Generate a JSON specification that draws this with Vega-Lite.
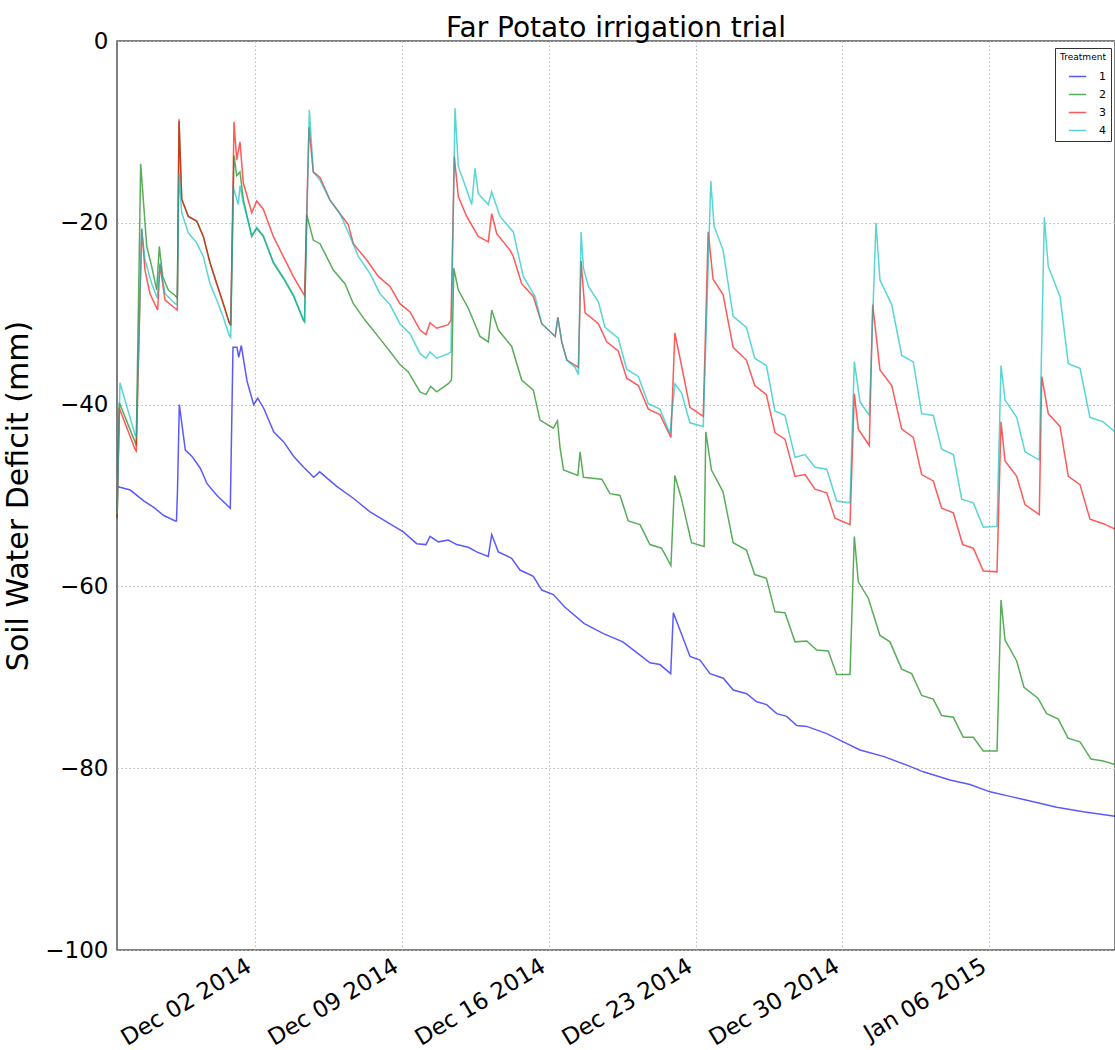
{
  "$schema": "https://vega.github.io/schema/vega-lite/v6.json",
  "width": 998,
  "height": 909,
  "autosize": {"type": "none"},
  "padding": {"left": 117, "top": 41, "right": 0, "bottom": 100},
  "background": "white",
  "title": {"text": "Far Potato irrigation trial", "fontSize": 28, "font": "DejaVu Sans", "fontWeight": "normal", "color": "black", "anchor": "middle", "offset": -13},
  "data": {"values": [
{"date":"2014-11-25T11:00","deficit":-49.0,"treatment":"1"},{"date":"2014-11-26T02:00","deficit":-49.4,"treatment":"1"},{"date":"2014-11-26T17:20","deficit":-50.6,"treatment":"1"},{"date":"2014-11-27T04:50","deficit":-51.3,"treatment":"1"},{"date":"2014-11-27T16:15","deficit":-52.2,"treatment":"1"},{"date":"2014-11-28T05:30","deficit":-52.8,"treatment":"1"},{"date":"2014-11-28T06:50","deficit":-52.8,"treatment":"1"},{"date":"2014-11-28T08:00","deficit":-49.4,"treatment":"1"},{"date":"2014-11-28T10:05","deficit":-40.0,"treatment":"1"},{"date":"2014-11-28T16:55","deficit":-45.0,"treatment":"1"},{"date":"2014-11-29T00:35","deficit":-45.7,"treatment":"1"},{"date":"2014-11-29T10:05","deficit":-47.0,"treatment":"1"},{"date":"2014-11-29T17:45","deficit":-48.7,"treatment":"1"},{"date":"2014-11-30T05:10","deficit":-50.0,"treatment":"1"},{"date":"2014-11-30T20:20","deficit":-51.4,"treatment":"1"},{"date":"2014-11-30T23:25","deficit":-33.7,"treatment":"1"},{"date":"2014-12-01T04:00","deficit":-33.7,"treatment":"1"},{"date":"2014-12-01T05:55","deficit":-34.8,"treatment":"1"},{"date":"2014-12-01T08:55","deficit":-33.5,"treatment":"1"},{"date":"2014-12-01T15:25","deficit":-37.4,"treatment":"1"},{"date":"2014-12-01T23:05","deficit":-40.0,"treatment":"1"},{"date":"2014-12-02T03:40","deficit":-39.3,"treatment":"1"},{"date":"2014-12-02T10:30","deficit":-40.4,"treatment":"1"},{"date":"2014-12-02T21:55","deficit":-43.0,"treatment":"1"},{"date":"2014-12-03T09:20","deficit":-44.1,"treatment":"1"},{"date":"2014-12-03T20:50","deficit":-45.7,"treatment":"1"},{"date":"2014-12-04T08:15","deficit":-46.9,"treatment":"1"},{"date":"2014-12-04T19:40","deficit":-48.0,"treatment":"1"},{"date":"2014-12-05T02:30","deficit":-47.4,"treatment":"1"},{"date":"2014-12-05T21:55","deficit":-49.0,"treatment":"1"},{"date":"2014-12-06T16:55","deficit":-50.3,"treatment":"1"},{"date":"2014-12-07T12:00","deficit":-51.8,"treatment":"1"},{"date":"2014-12-08T07:05","deficit":-52.9,"treatment":"1"},{"date":"2014-12-09T02:05","deficit":-54.0,"treatment":"1"},{"date":"2014-12-09T17:20","deficit":-55.3,"treatment":"1"},{"date":"2014-12-10T04:00","deficit":-55.4,"treatment":"1"},{"date":"2014-12-10T08:35","deficit":-54.5,"treatment":"1"},{"date":"2014-12-10T18:05","deficit":-55.1,"treatment":"1"},{"date":"2014-12-11T05:30","deficit":-54.9,"treatment":"1"},{"date":"2014-12-11T15:05","deficit":-55.4,"treatment":"1"},{"date":"2014-12-12T04:20","deficit":-55.7,"treatment":"1"},{"date":"2014-12-12T13:55","deficit":-56.2,"treatment":"1"},{"date":"2014-12-13T03:10","deficit":-56.7,"treatment":"1"},{"date":"2014-12-13T07:05","deficit":-54.3,"treatment":"1"},{"date":"2014-12-13T14:40","deficit":-56.2,"treatment":"1"},{"date":"2014-12-14T05:55","deficit":-56.9,"treatment":"1"},{"date":"2014-12-14T15:25","deficit":-58.2,"treatment":"1"},{"date":"2014-12-15T06:40","deficit":-58.9,"treatment":"1"},{"date":"2014-12-15T16:15","deficit":-60.4,"treatment":"1"},{"date":"2014-12-16T05:30","deficit":-60.9,"treatment":"1"},{"date":"2014-12-16T18:50","deficit":-62.3,"treatment":"1"},{"date":"2014-12-17T16:55","deficit":-64.1,"treatment":"1"},{"date":"2014-12-18T14:50","deficit":-65.2,"treatment":"1"},{"date":"2014-12-19T12:55","deficit":-66.1,"treatment":"1"},{"date":"2014-12-20T06:25","deficit":-67.4,"treatment":"1"},{"date":"2014-12-20T20:00","deficit":-68.4,"treatment":"1"},{"date":"2014-12-21T07:25","deficit":-68.6,"treatment":"1"},{"date":"2014-12-21T19:40","deficit":-69.6,"treatment":"1"},{"date":"2014-12-21T22:40","deficit":-62.9,"treatment":"1"},{"date":"2014-12-22T06:15","deficit":-64.8,"treatment":"1"},{"date":"2014-12-22T17:45","deficit":-67.7,"treatment":"1"},{"date":"2014-12-23T05:10","deficit":-68.1,"treatment":"1"},{"date":"2014-12-23T16:35","deficit":-69.6,"treatment":"1"},{"date":"2014-12-24T07:45","deficit":-70.1,"treatment":"1"},{"date":"2014-12-24T19:10","deficit":-71.4,"treatment":"1"},{"date":"2014-12-25T10:30","deficit":-71.8,"treatment":"1"},{"date":"2014-12-25T21:55","deficit":-72.7,"treatment":"1"},{"date":"2014-12-26T09:20","deficit":-73.0,"treatment":"1"},{"date":"2014-12-26T20:50","deficit":-74.0,"treatment":"1"},{"date":"2014-12-27T08:15","deficit":-74.3,"treatment":"1"},{"date":"2014-12-27T19:40","deficit":-75.3,"treatment":"1"},{"date":"2014-12-28T07:05","deficit":-75.4,"treatment":"1"},{"date":"2014-12-29T05:55","deficit":-76.2,"treatment":"1"},{"date":"2014-12-30T00:55","deficit":-77.1,"treatment":"1"},{"date":"2014-12-30T20:00","deficit":-78.0,"treatment":"1"},{"date":"2014-12-31T22:40","deficit":-78.7,"treatment":"1"},{"date":"2015-01-02T05:10","deficit":-79.8,"treatment":"1"},{"date":"2015-01-02T20:20","deficit":-80.4,"treatment":"1"},{"date":"2015-01-04T02:50","deficit":-81.3,"treatment":"1"},{"date":"2015-01-05T01:45","deficit":-81.8,"treatment":"1"},{"date":"2015-01-06T00:35","deficit":-82.6,"treatment":"1"},{"date":"2015-01-06T23:25","deficit":-83.1,"treatment":"1"},{"date":"2015-01-08T02:05","deficit":-83.7,"treatment":"1"},{"date":"2015-01-09T04:50","deficit":-84.3,"treatment":"1"},{"date":"2015-01-10T11:10","deficit":-84.8,"treatment":"1"},{"date":"2015-01-11T23:25","deficit":-85.3,"treatment":"1"},
{"date":"2014-11-25T11:00","deficit":-52.5,"treatment":"2"},{"date":"2014-11-25T13:30","deficit":-39.8,"treatment":"2"},{"date":"2014-11-26T07:25","deficit":-44.1,"treatment":"2"},{"date":"2014-11-26T08:50","deficit":-44.5,"treatment":"2"},{"date":"2014-11-26T13:55","deficit":-13.5,"treatment":"2"},{"date":"2014-11-26T20:50","deficit":-22.6,"treatment":"2"},{"date":"2014-11-27T02:30","deficit":-24.8,"treatment":"2"},{"date":"2014-11-27T08:15","deficit":-27.4,"treatment":"2"},{"date":"2014-11-27T11:10","deficit":-22.6,"treatment":"2"},{"date":"2014-11-27T15:05","deficit":-25.9,"treatment":"2"},{"date":"2014-11-27T21:30","deficit":-27.4,"treatment":"2"},{"date":"2014-11-28T05:10","deficit":-28.0,"treatment":"2"},{"date":"2014-11-28T07:45","deficit":-28.3,"treatment":"2"},{"date":"2014-11-28T09:45","deficit":-8.8,"treatment":"2"},{"date":"2014-11-28T12:50","deficit":-17.4,"treatment":"2"},{"date":"2014-11-28T20:20","deficit":-19.3,"treatment":"2"},{"date":"2014-11-29T05:55","deficit":-19.8,"treatment":"2"},{"date":"2014-11-29T13:30","deficit":-21.5,"treatment":"2"},{"date":"2014-11-29T21:10","deficit":-24.4,"treatment":"2"},{"date":"2014-11-30T04:50","deficit":-26.7,"treatment":"2"},{"date":"2014-11-30T12:20","deficit":-28.9,"treatment":"2"},{"date":"2014-11-30T18:50","deficit":-30.9,"treatment":"2"},{"date":"2014-11-30T20:50","deficit":-31.3,"treatment":"2"},{"date":"2014-12-01T00:35","deficit":-12.6,"treatment":"2"},{"date":"2014-12-01T03:40","deficit":-14.8,"treatment":"2"},{"date":"2014-12-01T07:25","deficit":-14.4,"treatment":"2"},{"date":"2014-12-01T11:10","deficit":-17.4,"treatment":"2"},{"date":"2014-12-01T20:50","deficit":-21.5,"treatment":"2"},{"date":"2014-12-02T02:30","deficit":-20.6,"treatment":"2"},{"date":"2014-12-02T10:05","deficit":-21.5,"treatment":"2"},{"date":"2014-12-02T21:30","deficit":-24.4,"treatment":"2"},{"date":"2014-12-03T08:55","deficit":-26.1,"treatment":"2"},{"date":"2014-12-03T20:20","deficit":-28.0,"treatment":"2"},{"date":"2014-12-04T07:45","deficit":-30.7,"treatment":"2"},{"date":"2014-12-04T09:10","deficit":-30.9,"treatment":"2"},{"date":"2014-12-04T11:40","deficit":-19.1,"treatment":"2"},{"date":"2014-12-04T19:10","deficit":-21.9,"treatment":"2"},{"date":"2014-12-05T02:50","deficit":-22.3,"treatment":"2"},{"date":"2014-12-05T18:05","deficit":-25.2,"treatment":"2"},{"date":"2014-12-06T07:25","deficit":-26.7,"treatment":"2"},{"date":"2014-12-06T16:55","deficit":-28.9,"treatment":"2"},{"date":"2014-12-07T06:15","deficit":-30.7,"treatment":"2"},{"date":"2014-12-07T19:40","deficit":-32.3,"treatment":"2"},{"date":"2014-12-08T12:50","deficit":-34.4,"treatment":"2"},{"date":"2014-12-08T22:15","deficit":-35.6,"treatment":"2"},{"date":"2014-12-09T07:45","deficit":-36.4,"treatment":"2"},{"date":"2014-12-09T21:10","deficit":-38.6,"treatment":"2"},{"date":"2014-12-10T04:00","deficit":-38.9,"treatment":"2"},{"date":"2014-12-10T09:20","deficit":-38.0,"treatment":"2"},{"date":"2014-12-10T16:15","deficit":-38.6,"treatment":"2"},{"date":"2014-12-11T05:30","deficit":-37.7,"treatment":"2"},{"date":"2014-12-11T09:10","deficit":-37.3,"treatment":"2"},{"date":"2014-12-11T11:45","deficit":-25.0,"treatment":"2"},{"date":"2014-12-11T16:55","deficit":-27.4,"treatment":"2"},{"date":"2014-12-12T04:20","deficit":-29.4,"treatment":"2"},{"date":"2014-12-12T17:45","deficit":-32.5,"treatment":"2"},{"date":"2014-12-13T03:10","deficit":-33.1,"treatment":"2"},{"date":"2014-12-13T07:05","deficit":-29.6,"treatment":"2"},{"date":"2014-12-13T14:40","deficit":-31.8,"treatment":"2"},{"date":"2014-12-14T05:55","deficit":-33.6,"treatment":"2"},{"date":"2014-12-14T17:20","deficit":-37.3,"treatment":"2"},{"date":"2014-12-15T06:40","deficit":-38.4,"treatment":"2"},{"date":"2014-12-15T14:15","deficit":-41.7,"treatment":"2"},{"date":"2014-12-16T05:30","deficit":-42.6,"treatment":"2"},{"date":"2014-12-16T10:15","deficit":-41.8,"treatment":"2"},{"date":"2014-12-16T13:15","deficit":-44.8,"treatment":"2"},{"date":"2014-12-16T17:10","deficit":-47.2,"treatment":"2"},{"date":"2014-12-17T09:30","deficit":-47.8,"treatment":"2"},{"date":"2014-12-17T12:05","deficit":-45.2,"treatment":"2"},{"date":"2014-12-17T15:55","deficit":-48.0,"treatment":"2"},{"date":"2014-12-18T12:50","deficit":-48.2,"treatment":"2"},{"date":"2014-12-18T22:15","deficit":-49.8,"treatment":"2"},{"date":"2014-12-19T09:45","deficit":-50.0,"treatment":"2"},{"date":"2014-12-19T19:10","deficit":-52.8,"treatment":"2"},{"date":"2014-12-20T08:35","deficit":-53.2,"treatment":"2"},{"date":"2014-12-20T19:55","deficit":-55.4,"treatment":"2"},{"date":"2014-12-21T09:15","deficit":-55.8,"treatment":"2"},{"date":"2014-12-21T19:55","deficit":-57.7,"treatment":"2"},{"date":"2014-12-22T00:25","deficit":-47.8,"treatment":"2"},{"date":"2014-12-22T08:00","deficit":-50.4,"treatment":"2"},{"date":"2014-12-22T19:25","deficit":-55.2,"treatment":"2"},{"date":"2014-12-23T09:55","deficit":-55.6,"treatment":"2"},{"date":"2014-12-23T11:45","deficit":-43.0,"treatment":"2"},{"date":"2014-12-23T18:15","deficit":-47.2,"treatment":"2"},{"date":"2014-12-24T07:30","deficit":-49.6,"treatment":"2"},{"date":"2014-12-24T19:00","deficit":-55.2,"treatment":"2"},{"date":"2014-12-25T10:10","deficit":-56.0,"treatment":"2"},{"date":"2014-12-25T19:40","deficit":-58.7,"treatment":"2"},{"date":"2014-12-26T09:00","deficit":-59.1,"treatment":"2"},{"date":"2014-12-26T18:50","deficit":-62.8,"treatment":"2"},{"date":"2014-12-27T06:15","deficit":-62.9,"treatment":"2"},{"date":"2014-12-27T17:45","deficit":-66.1,"treatment":"2"},{"date":"2014-12-28T07:05","deficit":-66.0,"treatment":"2"},{"date":"2014-12-28T18:30","deficit":-67.0,"treatment":"2"},{"date":"2014-12-29T07:45","deficit":-67.1,"treatment":"2"},{"date":"2014-12-29T17:20","deficit":-69.7,"treatment":"2"},{"date":"2014-12-30T08:35","deficit":-69.7,"treatment":"2"},{"date":"2014-12-30T13:30","deficit":-54.5,"treatment":"2"},{"date":"2014-12-30T18:05","deficit":-59.5,"treatment":"2"},{"date":"2014-12-31T05:30","deficit":-61.3,"treatment":"2"},{"date":"2014-12-31T18:50","deficit":-65.4,"treatment":"2"},{"date":"2015-01-01T06:15","deficit":-66.1,"treatment":"2"},{"date":"2015-01-01T19:40","deficit":-69.1,"treatment":"2"},{"date":"2015-01-02T07:05","deficit":-69.6,"treatment":"2"},{"date":"2015-01-02T18:30","deficit":-72.0,"treatment":"2"},{"date":"2015-01-03T07:45","deficit":-72.4,"treatment":"2"},{"date":"2015-01-03T17:20","deficit":-74.2,"treatment":"2"},{"date":"2015-01-04T06:40","deficit":-74.4,"treatment":"2"},{"date":"2015-01-04T18:05","deficit":-76.6,"treatment":"2"},{"date":"2015-01-05T05:30","deficit":-76.6,"treatment":"2"},{"date":"2015-01-05T16:55","deficit":-78.1,"treatment":"2"},{"date":"2015-01-06T08:35","deficit":-78.1,"treatment":"2"},{"date":"2015-01-06T13:10","deficit":-61.5,"treatment":"2"},{"date":"2015-01-06T17:45","deficit":-65.9,"treatment":"2"},{"date":"2015-01-07T07:05","deficit":-68.2,"treatment":"2"},{"date":"2015-01-07T15:25","deficit":-71.1,"treatment":"2"},{"date":"2015-01-08T07:25","deficit":-72.3,"treatment":"2"},{"date":"2015-01-08T17:20","deficit":-74.0,"treatment":"2"},{"date":"2015-01-09T06:40","deficit":-74.6,"treatment":"2"},{"date":"2015-01-09T17:45","deficit":-76.7,"treatment":"2"},{"date":"2015-01-10T07:25","deficit":-77.1,"treatment":"2"},{"date":"2015-01-10T20:00","deficit":-79.0,"treatment":"2"},{"date":"2015-01-11T10:05","deficit":-79.2,"treatment":"2"},{"date":"2015-01-11T23:25","deficit":-79.6,"treatment":"2"},
{"date":"2014-11-25T11:00","deficit":-52.5,"treatment":"3"},{"date":"2014-11-25T13:30","deficit":-40.4,"treatment":"3"},{"date":"2014-11-26T07:25","deficit":-44.9,"treatment":"3"},{"date":"2014-11-26T08:55","deficit":-45.1,"treatment":"3"},{"date":"2014-11-26T15:05","deficit":-20.7,"treatment":"3"},{"date":"2014-11-26T18:50","deficit":-25.2,"treatment":"3"},{"date":"2014-11-27T00:35","deficit":-27.8,"treatment":"3"},{"date":"2014-11-27T09:20","deficit":-29.6,"treatment":"3"},{"date":"2014-11-27T12:00","deficit":-24.6,"treatment":"3"},{"date":"2014-11-27T17:45","deficit":-28.5,"treatment":"3"},{"date":"2014-11-28T05:10","deficit":-29.4,"treatment":"3"},{"date":"2014-11-28T07:45","deficit":-29.6,"treatment":"3"},{"date":"2014-11-28T09:45","deficit":-8.6,"treatment":"3"},{"date":"2014-11-28T12:50","deficit":-17.4,"treatment":"3"},{"date":"2014-11-28T20:20","deficit":-19.3,"treatment":"3"},{"date":"2014-11-29T05:55","deficit":-19.8,"treatment":"3"},{"date":"2014-11-29T13:30","deficit":-21.5,"treatment":"3"},{"date":"2014-11-29T21:10","deficit":-24.4,"treatment":"3"},{"date":"2014-11-30T04:50","deficit":-26.7,"treatment":"3"},{"date":"2014-11-30T12:20","deficit":-28.9,"treatment":"3"},{"date":"2014-11-30T18:50","deficit":-30.9,"treatment":"3"},{"date":"2014-11-30T20:50","deficit":-31.3,"treatment":"3"},{"date":"2014-12-01T00:35","deficit":-8.9,"treatment":"3"},{"date":"2014-12-01T03:40","deficit":-13.1,"treatment":"3"},{"date":"2014-12-01T07:25","deficit":-11.1,"treatment":"3"},{"date":"2014-12-01T11:10","deficit":-15.6,"treatment":"3"},{"date":"2014-12-01T20:50","deficit":-18.9,"treatment":"3"},{"date":"2014-12-02T02:30","deficit":-17.6,"treatment":"3"},{"date":"2014-12-02T10:05","deficit":-18.5,"treatment":"3"},{"date":"2014-12-02T21:30","deficit":-21.5,"treatment":"3"},{"date":"2014-12-03T08:55","deficit":-23.7,"treatment":"3"},{"date":"2014-12-03T20:20","deficit":-25.9,"treatment":"3"},{"date":"2014-12-04T07:45","deficit":-27.8,"treatment":"3"},{"date":"2014-12-04T09:10","deficit":-28.0,"treatment":"3"},{"date":"2014-12-04T14:15","deficit":-9.5,"treatment":"3"},{"date":"2014-12-04T19:10","deficit":-14.4,"treatment":"3"},{"date":"2014-12-05T02:50","deficit":-15.0,"treatment":"3"},{"date":"2014-12-05T14:15","deficit":-17.5,"treatment":"3"},{"date":"2014-12-06T01:45","deficit":-19.0,"treatment":"3"},{"date":"2014-12-06T11:10","deficit":-20.2,"treatment":"3"},{"date":"2014-12-06T16:55","deficit":-22.3,"treatment":"3"},{"date":"2014-12-07T08:15","deficit":-24.1,"treatment":"3"},{"date":"2014-12-07T21:30","deficit":-25.9,"treatment":"3"},{"date":"2014-12-08T10:50","deficit":-27.0,"treatment":"3"},{"date":"2014-12-08T22:15","deficit":-28.9,"treatment":"3"},{"date":"2014-12-09T09:45","deficit":-29.8,"treatment":"3"},{"date":"2014-12-09T21:10","deficit":-31.8,"treatment":"3"},{"date":"2014-12-10T04:00","deficit":-32.3,"treatment":"3"},{"date":"2014-12-10T08:35","deficit":-31.0,"treatment":"3"},{"date":"2014-12-10T16:15","deficit":-31.6,"treatment":"3"},{"date":"2014-12-11T05:30","deficit":-31.2,"treatment":"3"},{"date":"2014-12-11T08:35","deficit":-30.7,"treatment":"3"},{"date":"2014-12-11T12:20","deficit":-12.7,"treatment":"3"},{"date":"2014-12-11T16:55","deficit":-17.1,"treatment":"3"},{"date":"2014-12-12T02:30","deficit":-19.3,"treatment":"3"},{"date":"2014-12-12T15:45","deficit":-21.5,"treatment":"3"},{"date":"2014-12-13T03:10","deficit":-22.1,"treatment":"3"},{"date":"2014-12-13T07:05","deficit":-19.0,"treatment":"3"},{"date":"2014-12-13T12:50","deficit":-21.2,"treatment":"3"},{"date":"2014-12-14T04:00","deficit":-23.0,"treatment":"3"},{"date":"2014-12-14T07:45","deficit":-23.7,"treatment":"3"},{"date":"2014-12-14T17:20","deficit":-26.7,"treatment":"3"},{"date":"2014-12-15T06:40","deficit":-28.1,"treatment":"3"},{"date":"2014-12-15T16:15","deficit":-31.1,"treatment":"3"},{"date":"2014-12-16T07:40","deficit":-32.5,"treatment":"3"},{"date":"2014-12-16T10:40","deficit":-30.4,"treatment":"3"},{"date":"2014-12-16T15:10","deficit":-33.1,"treatment":"3"},{"date":"2014-12-16T20:55","deficit":-35.1,"treatment":"3"},{"date":"2014-12-17T10:10","deficit":-35.9,"treatment":"3"},{"date":"2014-12-17T13:15","deficit":-24.2,"treatment":"3"},{"date":"2014-12-17T17:50","deficit":-29.9,"treatment":"3"},{"date":"2014-12-18T09:00","deficit":-31.1,"treatment":"3"},{"date":"2014-12-18T18:30","deficit":-33.1,"treatment":"3"},{"date":"2014-12-19T07:45","deficit":-34.1,"treatment":"3"},{"date":"2014-12-19T17:20","deficit":-37.1,"treatment":"3"},{"date":"2014-12-20T06:40","deficit":-37.9,"treatment":"3"},{"date":"2014-12-20T18:05","deficit":-40.5,"treatment":"3"},{"date":"2014-12-21T07:25","deficit":-41.1,"treatment":"3"},{"date":"2014-12-21T19:55","deficit":-43.6,"treatment":"3"},{"date":"2014-12-22T00:25","deficit":-32.1,"treatment":"3"},{"date":"2014-12-22T08:00","deficit":-35.7,"treatment":"3"},{"date":"2014-12-22T17:35","deficit":-40.3,"treatment":"3"},{"date":"2014-12-23T08:50","deficit":-41.3,"treatment":"3"},{"date":"2014-12-23T14:30","deficit":-21.0,"treatment":"3"},{"date":"2014-12-23T20:05","deficit":-26.2,"treatment":"3"},{"date":"2014-12-24T07:30","deficit":-27.9,"treatment":"3"},{"date":"2014-12-24T19:00","deficit":-33.7,"treatment":"3"},{"date":"2014-12-25T10:10","deficit":-35.1,"treatment":"3"},{"date":"2014-12-25T19:40","deficit":-37.9,"treatment":"3"},{"date":"2014-12-26T09:00","deficit":-38.9,"treatment":"3"},{"date":"2014-12-26T18:50","deficit":-43.1,"treatment":"3"},{"date":"2014-12-27T06:15","deficit":-43.8,"treatment":"3"},{"date":"2014-12-27T17:45","deficit":-47.9,"treatment":"3"},{"date":"2014-12-28T05:10","deficit":-47.7,"treatment":"3"},{"date":"2014-12-28T16:35","deficit":-49.3,"treatment":"3"},{"date":"2014-12-29T05:55","deficit":-49.7,"treatment":"3"},{"date":"2014-12-29T15:25","deficit":-52.5,"treatment":"3"},{"date":"2014-12-30T08:35","deficit":-53.2,"treatment":"3"},{"date":"2014-12-30T13:30","deficit":-38.8,"treatment":"3"},{"date":"2014-12-30T18:05","deficit":-42.7,"treatment":"3"},{"date":"2014-12-31T06:40","deficit":-44.5,"treatment":"3"},{"date":"2014-12-31T10:30","deficit":-29.0,"treatment":"3"},{"date":"2014-12-31T18:50","deficit":-36.2,"treatment":"3"},{"date":"2015-01-01T08:15","deficit":-37.9,"treatment":"3"},{"date":"2015-01-01T19:40","deficit":-42.7,"treatment":"3"},{"date":"2015-01-02T08:55","deficit":-43.6,"treatment":"3"},{"date":"2015-01-02T18:30","deficit":-47.7,"treatment":"3"},{"date":"2015-01-03T07:45","deficit":-48.4,"treatment":"3"},{"date":"2015-01-03T17:20","deficit":-51.4,"treatment":"3"},{"date":"2015-01-04T06:40","deficit":-51.9,"treatment":"3"},{"date":"2015-01-04T17:20","deficit":-55.4,"treatment":"3"},{"date":"2015-01-05T05:30","deficit":-55.8,"treatment":"3"},{"date":"2015-01-05T16:55","deficit":-58.3,"treatment":"3"},{"date":"2015-01-06T08:35","deficit":-58.4,"treatment":"3"},{"date":"2015-01-06T13:10","deficit":-41.9,"treatment":"3"},{"date":"2015-01-06T17:45","deficit":-46.2,"treatment":"3"},{"date":"2015-01-07T07:05","deficit":-47.9,"treatment":"3"},{"date":"2015-01-07T16:35","deficit":-51.0,"treatment":"3"},{"date":"2015-01-08T08:55","deficit":-52.1,"treatment":"3"},{"date":"2015-01-08T11:40","deficit":-36.9,"treatment":"3"},{"date":"2015-01-08T19:10","deficit":-41.0,"treatment":"3"},{"date":"2015-01-09T08:35","deficit":-42.4,"treatment":"3"},{"date":"2015-01-09T18:05","deficit":-47.9,"treatment":"3"},{"date":"2015-01-10T07:25","deficit":-48.8,"treatment":"3"},{"date":"2015-01-10T18:50","deficit":-52.6,"treatment":"3"},{"date":"2015-01-11T10:05","deficit":-53.1,"treatment":"3"},{"date":"2015-01-11T23:25","deficit":-53.7,"treatment":"3"},
{"date":"2014-11-25T11:00","deficit":-52.0,"treatment":"4"},{"date":"2014-11-25T14:15","deficit":-37.6,"treatment":"4"},{"date":"2014-11-26T07:25","deficit":-43.3,"treatment":"4"},{"date":"2014-11-26T08:55","deficit":-43.5,"treatment":"4"},{"date":"2014-11-26T15:05","deficit":-20.6,"treatment":"4"},{"date":"2014-11-26T18:50","deficit":-24.1,"treatment":"4"},{"date":"2014-11-27T02:30","deficit":-26.7,"treatment":"4"},{"date":"2014-11-27T08:55","deficit":-28.3,"treatment":"4"},{"date":"2014-11-27T12:00","deficit":-24.4,"treatment":"4"},{"date":"2014-11-27T17:45","deficit":-27.8,"treatment":"4"},{"date":"2014-11-28T05:10","deficit":-28.9,"treatment":"4"},{"date":"2014-11-28T07:45","deficit":-29.0,"treatment":"4"},{"date":"2014-11-28T09:45","deficit":-14.6,"treatment":"4"},{"date":"2014-11-28T12:50","deficit":-18.9,"treatment":"4"},{"date":"2014-11-28T20:20","deficit":-21.1,"treatment":"4"},{"date":"2014-11-29T05:55","deficit":-22.2,"treatment":"4"},{"date":"2014-11-29T13:30","deficit":-23.7,"treatment":"4"},{"date":"2014-11-29T21:10","deficit":-26.7,"treatment":"4"},{"date":"2014-11-30T04:50","deficit":-28.5,"treatment":"4"},{"date":"2014-11-30T12:20","deficit":-30.4,"treatment":"4"},{"date":"2014-11-30T19:10","deficit":-32.4,"treatment":"4"},{"date":"2014-11-30T20:50","deficit":-32.6,"treatment":"4"},{"date":"2014-11-30T23:45","deficit":-16.1,"treatment":"4"},{"date":"2014-12-01T05:30","deficit":-18.0,"treatment":"4"},{"date":"2014-12-01T07:25","deficit":-15.9,"treatment":"4"},{"date":"2014-12-01T11:10","deficit":-17.8,"treatment":"4"},{"date":"2014-12-01T20:50","deficit":-21.4,"treatment":"4"},{"date":"2014-12-02T02:30","deficit":-20.5,"treatment":"4"},{"date":"2014-12-02T10:05","deficit":-21.4,"treatment":"4"},{"date":"2014-12-02T21:30","deficit":-24.3,"treatment":"4"},{"date":"2014-12-03T08:55","deficit":-26.0,"treatment":"4"},{"date":"2014-12-03T20:20","deficit":-27.9,"treatment":"4"},{"date":"2014-12-04T07:45","deficit":-30.6,"treatment":"4"},{"date":"2014-12-04T09:10","deficit":-30.8,"treatment":"4"},{"date":"2014-12-04T14:40","deficit":-7.6,"treatment":"4"},{"date":"2014-12-04T19:10","deficit":-14.4,"treatment":"4"},{"date":"2014-12-05T02:50","deficit":-15.3,"treatment":"4"},{"date":"2014-12-05T14:15","deficit":-17.5,"treatment":"4"},{"date":"2014-12-06T01:45","deficit":-19.0,"treatment":"4"},{"date":"2014-12-06T13:10","deficit":-21.5,"treatment":"4"},{"date":"2014-12-06T22:40","deficit":-23.7,"treatment":"4"},{"date":"2014-12-07T12:00","deficit":-25.6,"treatment":"4"},{"date":"2014-12-07T23:25","deficit":-27.8,"treatment":"4"},{"date":"2014-12-08T10:50","deficit":-29.0,"treatment":"4"},{"date":"2014-12-08T22:15","deficit":-31.1,"treatment":"4"},{"date":"2014-12-09T09:45","deficit":-32.2,"treatment":"4"},{"date":"2014-12-09T21:10","deficit":-34.4,"treatment":"4"},{"date":"2014-12-10T04:00","deficit":-34.9,"treatment":"4"},{"date":"2014-12-10T08:35","deficit":-34.2,"treatment":"4"},{"date":"2014-12-10T16:15","deficit":-34.9,"treatment":"4"},{"date":"2014-12-11T05:30","deficit":-34.4,"treatment":"4"},{"date":"2014-12-11T08:35","deficit":-34.2,"treatment":"4"},{"date":"2014-12-11T13:10","deficit":-7.4,"treatment":"4"},{"date":"2014-12-11T16:55","deficit":-13.8,"treatment":"4"},{"date":"2014-12-12T02:30","deficit":-16.4,"treatment":"4"},{"date":"2014-12-12T08:15","deficit":-18.0,"treatment":"4"},{"date":"2014-12-12T12:00","deficit":-14.0,"treatment":"4"},{"date":"2014-12-12T15:45","deficit":-16.8,"treatment":"4"},{"date":"2014-12-13T03:10","deficit":-18.0,"treatment":"4"},{"date":"2014-12-13T07:05","deficit":-16.6,"treatment":"4"},{"date":"2014-12-13T16:35","deficit":-19.3,"treatment":"4"},{"date":"2014-12-14T07:45","deficit":-21.0,"treatment":"4"},{"date":"2014-12-14T19:10","deficit":-25.9,"treatment":"4"},{"date":"2014-12-15T08:35","deficit":-28.1,"treatment":"4"},{"date":"2014-12-15T16:15","deficit":-31.1,"treatment":"4"},{"date":"2014-12-16T07:40","deficit":-32.5,"treatment":"4"},{"date":"2014-12-16T10:40","deficit":-30.4,"treatment":"4"},{"date":"2014-12-16T15:10","deficit":-33.1,"treatment":"4"},{"date":"2014-12-16T20:55","deficit":-35.1,"treatment":"4"},{"date":"2014-12-17T06:25","deficit":-35.9,"treatment":"4"},{"date":"2014-12-17T10:10","deficit":-36.7,"treatment":"4"},{"date":"2014-12-17T13:15","deficit":-21.0,"treatment":"4"},{"date":"2014-12-17T15:55","deficit":-25.0,"treatment":"4"},{"date":"2014-12-17T21:35","deficit":-27.0,"treatment":"4"},{"date":"2014-12-18T09:00","deficit":-28.7,"treatment":"4"},{"date":"2014-12-18T16:35","deficit":-31.5,"treatment":"4"},{"date":"2014-12-19T07:45","deficit":-32.7,"treatment":"4"},{"date":"2014-12-19T17:20","deficit":-36.1,"treatment":"4"},{"date":"2014-12-20T06:40","deficit":-36.9,"treatment":"4"},{"date":"2014-12-20T18:05","deficit":-39.9,"treatment":"4"},{"date":"2014-12-21T07:25","deficit":-40.5,"treatment":"4"},{"date":"2014-12-21T18:45","deficit":-43.2,"treatment":"4"},{"date":"2014-12-22T00:25","deficit":-37.7,"treatment":"4"},{"date":"2014-12-22T08:00","deficit":-38.7,"treatment":"4"},{"date":"2014-12-22T17:35","deficit":-42.0,"treatment":"4"},{"date":"2014-12-23T08:50","deficit":-42.4,"treatment":"4"},{"date":"2014-12-23T17:30","deficit":-15.4,"treatment":"4"},{"date":"2014-12-23T21:15","deficit":-20.4,"treatment":"4"},{"date":"2014-12-24T07:30","deficit":-23.0,"treatment":"4"},{"date":"2014-12-24T19:00","deficit":-30.3,"treatment":"4"},{"date":"2014-12-25T10:10","deficit":-31.5,"treatment":"4"},{"date":"2014-12-25T19:40","deficit":-34.9,"treatment":"4"},{"date":"2014-12-26T09:00","deficit":-35.7,"treatment":"4"},{"date":"2014-12-26T18:50","deficit":-40.7,"treatment":"4"},{"date":"2014-12-27T06:15","deficit":-41.2,"treatment":"4"},{"date":"2014-12-27T17:45","deficit":-45.8,"treatment":"4"},{"date":"2014-12-28T05:10","deficit":-45.5,"treatment":"4"},{"date":"2014-12-28T16:35","deficit":-46.9,"treatment":"4"},{"date":"2014-12-29T05:55","deficit":-47.1,"treatment":"4"},{"date":"2014-12-29T17:20","deficit":-50.6,"treatment":"4"},{"date":"2014-12-30T08:35","deficit":-50.8,"treatment":"4"},{"date":"2014-12-30T13:30","deficit":-35.3,"treatment":"4"},{"date":"2014-12-30T20:00","deficit":-39.7,"treatment":"4"},{"date":"2014-12-31T06:40","deficit":-41.2,"treatment":"4"},{"date":"2014-12-31T14:15","deficit":-20.0,"treatment":"4"},{"date":"2014-12-31T18:50","deficit":-26.3,"treatment":"4"},{"date":"2015-01-01T08:15","deficit":-29.0,"treatment":"4"},{"date":"2015-01-01T19:40","deficit":-34.6,"treatment":"4"},{"date":"2015-01-02T08:55","deficit":-35.3,"treatment":"4"},{"date":"2015-01-02T18:30","deficit":-41.0,"treatment":"4"},{"date":"2015-01-03T07:45","deficit":-41.2,"treatment":"4"},{"date":"2015-01-03T17:20","deficit":-44.9,"treatment":"4"},{"date":"2015-01-04T06:40","deficit":-45.5,"treatment":"4"},{"date":"2015-01-04T16:15","deficit":-50.4,"treatment":"4"},{"date":"2015-01-05T05:30","deficit":-50.8,"treatment":"4"},{"date":"2015-01-05T16:55","deficit":-53.5,"treatment":"4"},{"date":"2015-01-06T08:35","deficit":-53.4,"treatment":"4"},{"date":"2015-01-06T13:10","deficit":-35.7,"treatment":"4"},{"date":"2015-01-06T17:45","deficit":-39.5,"treatment":"4"},{"date":"2015-01-07T07:05","deficit":-41.4,"treatment":"4"},{"date":"2015-01-07T16:35","deficit":-45.2,"treatment":"4"},{"date":"2015-01-08T08:55","deficit":-46.1,"treatment":"4"},{"date":"2015-01-08T14:40","deficit":-19.4,"treatment":"4"},{"date":"2015-01-08T19:10","deficit":-24.8,"treatment":"4"},{"date":"2015-01-09T08:35","deficit":-28.1,"treatment":"4"},{"date":"2015-01-09T18:05","deficit":-35.5,"treatment":"4"},{"date":"2015-01-10T07:25","deficit":-36.0,"treatment":"4"},{"date":"2015-01-10T18:50","deficit":-41.4,"treatment":"4"},{"date":"2015-01-11T10:05","deficit":-41.9,"treatment":"4"},{"date":"2015-01-11T23:25","deficit":-43.0,"treatment":"4"}
  ]},
  "mark": {"type": "line", "strokeWidth": 1.5, "opacity": 0.65, "interpolate": "linear"},
  "encoding": {
    "x": {
      "field": "date", "type": "temporal",
      "scale": {"domain": [{"year": 2014, "month": 11, "date": 25, "hours": 10, "minutes": 51}, {"year": 2015, "month": 1, "date": 11, "hours": 23, "minutes": 26}], "nice": false},
      "axis": {
        "title": null,
        "values": [{"year": 2014, "month": 12, "date": 2}, {"year": 2014, "month": 12, "date": 9}, {"year": 2014, "month": 12, "date": 16}, {"year": 2014, "month": 12, "date": 23}, {"year": 2014, "month": 12, "date": 30}, {"year": 2015, "month": 1, "date": 6}],
        "format": "%b %d %Y",
        "labelAngle": -31, "labelAlign": "right", "labelBaseline": "alphabetic",
        "labelFont": "DejaVu Sans", "labelFontSize": 23, "labelColor": "black",
        "labelPadding": 20, "labelOffset": -2, "labelOverlap": false, "labelFlush": false, "labelBound": false,
        "ticks": false, "domain": false,
        "grid": true, "gridColor": "#bbbbbb", "gridDash": [1.5, 2.5], "gridWidth": 1
      }
    },
    "y": {
      "field": "deficit", "type": "quantitative",
      "scale": {"domain": [-100, 0], "nice": false, "zero": false},
      "axis": {
        "title": "Soil Water Deficit (mm)",
        "titleFont": "DejaVu Sans", "titleFontSize": 30, "titleFontWeight": "normal", "titleColor": "black",
        "titleX": -99, "titleY": 454.5, "titleAlign": "center", "titleBaseline": "middle", "titleAngle": -90,
        "values": [-100, -80, -60, -40, -20, 0],
        "labelFont": "DejaVu Sans", "labelFontSize": 23, "labelColor": "black", "labelPadding": 9,
        "labelFlush": false, "labelOverlap": false,
        "ticks": false, "domain": false,
        "grid": true, "gridColor": "#bbbbbb", "gridDash": [1.5, 2.5], "gridWidth": 1
      }
    },
    "color": {
      "field": "treatment", "type": "nominal",
      "scale": {"domain": ["1", "2", "3", "4"], "range": ["#0000ff", "#008000", "#ff0000", "#00bfbf"]},
      "legend": {
        "title": "Treatment", "orient": "none", "legendX": 938, "legendY": 7,
        "titleFont": "DejaVu Sans", "titleFontSize": 9, "titleFontWeight": "normal", "titleColor": "black",
        "titleAnchor": "middle", "titleAlign": "center", "titlePadding": 5,
        "labelFont": "DejaVu Sans", "labelFontSize": 11, "labelColor": "black", "labelOffset": 12,
        "symbolType": "stroke", "symbolSize": 300, "symbolStrokeWidth": 1.5, "symbolOpacity": 0.65, "symbolOffset": 8,
        "rowPadding": 3, "padding": 5,
        "strokeColor": "#333333", "fillColor": "white"
      }
    }
  },
  "config": {"view": {"stroke": "#555555", "strokeWidth": 1.5}}
}
